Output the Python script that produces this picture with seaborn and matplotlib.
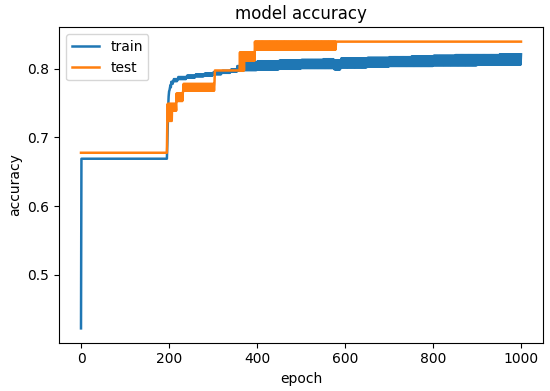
import numpy as np
import pandas as pd
import matplotlib
matplotlib.use("Agg")
import matplotlib.pyplot as plt
import seaborn as sns

# ---- data (per-epoch accuracy, 1000 epochs) ----
n_epochs = 1000
# train: segments start epoch, low / high values of the epoch-to-epoch swing
train_start = [0, 1, 196, 197, 198, 199, 200, 202, 205, 210, 220, 240, 260, 280, 300, 320, 340, 355, 370,
               400, 450, 500, 550, 575, 590, 650, 700, 750, 800, 850, 900, 950]
train_low   = [0.422, 0.669, 0.690, 0.720, 0.745, 0.760, 0.767, 0.773, 0.778, 0.782, 0.785, 0.787, 0.789, 0.790,
               0.792, 0.794, 0.796, 0.797, 0.798, 0.799, 0.800, 0.801, 0.801, 0.799, 0.802, 0.803, 0.804, 0.804,
               0.805, 0.805, 0.806, 0.806]
train_high  = [0.422, 0.669, 0.690, 0.720, 0.745, 0.760, 0.769, 0.776, 0.781, 0.785, 0.788, 0.790, 0.792, 0.793,
               0.795, 0.797, 0.799, 0.804, 0.809, 0.811, 0.812, 0.813, 0.814, 0.812, 0.815, 0.816, 0.817, 0.818,
               0.819, 0.820, 0.820, 0.821]
# test: segments start epoch, low / high values of the swing
test_start = [0, 196, 207, 217, 232, 304, 361, 372, 395, 580]
test_low   = [0.6777, 0.724, 0.739, 0.753, 0.768, 0.7975, 0.7975, 0.812, 0.828, 0.8395]
test_high  = [0.6777, 0.749, 0.749, 0.764, 0.778, 0.7975, 0.824, 0.824, 0.8395, 0.8395]

def build(starts, lows, highs):
    epochs = np.arange(n_epochs)
    idx = np.searchsorted(starts, epochs, side="right") - 1
    lo = np.asarray(lows)[idx]
    hi = np.asarray(highs)[idx]
    return epochs, np.where(epochs % 2 == 1, hi, lo)

ep, train_acc = build(train_start, train_low, train_high)
_, test_acc = build(test_start, test_low, test_high)
df = pd.DataFrame({"epoch": ep, "train": train_acc, "test": test_acc})

plt.rcParams["font.family"] = ["DejaVu Sans"]
fig = plt.figure(figsize=(5.5, 3.91), dpi=100)
ax = fig.add_axes([59 / 550, 1 - 342.7 / 391, (543 - 59) / 550, (342.7 - 27.3) / 391])

sns.lineplot(data=df, x="epoch", y="train", ax=ax, color="#1f77b4", label="train",
             estimator=None, linewidth=1.8)
sns.lineplot(data=df, x="epoch", y="test", ax=ax, color="#ff7f0e", label="test",
             estimator=None, linewidth=1.8)

ax.set_title("model accuracy", fontsize=12)
ax.set_xlabel("epoch", fontsize=10)
ax.set_ylabel("accuracy", fontsize=10)
ax.tick_params(labelsize=10)
ax.legend(loc="upper left", fontsize=10)

fig.savefig("out.png", dpi=100)
